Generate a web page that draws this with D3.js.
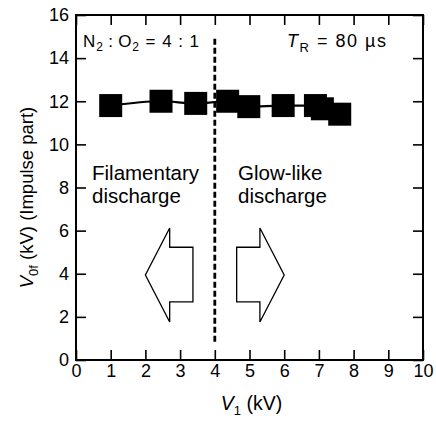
<!DOCTYPE html>
<html>
<head>
<meta charset="utf-8">
<title>V0f vs V1</title>
<style>
  body { margin: 0; background: #fff; }
  svg text { font-family: "Liberation Sans", Arial, Helvetica, sans-serif; fill: #000; }
</style>
</head>
<body>
<div class="plot_container"></div>
<script src="https://cdn.jsdelivr.net/npm/d3@7/dist/d3.min.js"></script>
<script>
// data
var v1 = [1.0, 2.45, 3.45, 4.37, 4.98, 5.97, 6.9, 7.1, 7.6];
var v0f = [11.8, 12.0, 11.9, 12.0, 11.75, 11.8, 11.8, 11.65, 11.4];
var xTicks = [0, 1, 2, 3, 4, 5, 6, 7, 8, 9, 10];
var yTicks = [0, 2, 4, 6, 8, 10, 12, 14, 16];
var boundaryV1 = 4;

var width = 436, height = 421;
var margin = {left: 76, right: 13, top: 15, bottom: 61};

var svg = d3.select(".plot_container").append("svg")
    .attr("width", width)
    .attr("height", height);

var x = d3.scaleLinear().domain([0, 10]).range([margin.left, width - margin.right]);
var y = d3.scaleLinear().domain([0, 16]).range([height - margin.bottom, margin.top]);

var tickLen = 10;

// ticks, all pointing inward
svg.append("g").attr("transform", "translate(0," + y(0) + ")")
    .call(d3.axisBottom(x).tickValues(xTicks).tickSizeInner(-tickLen).tickSizeOuter(0).tickPadding(4).tickFormat(d3.format("d")));
svg.append("g").attr("transform", "translate(0," + y(16) + ")")
    .call(d3.axisTop(x).tickValues(xTicks).tickSizeInner(-tickLen).tickSizeOuter(0).tickFormat(""));
svg.append("g").attr("transform", "translate(" + x(0) + ",0)")
    .call(d3.axisLeft(y).tickValues(yTicks).tickSizeInner(-tickLen).tickSizeOuter(0).tickPadding(7).tickFormat(d3.format("d")));
svg.append("g").attr("transform", "translate(" + x(10) + ",0)")
    .call(d3.axisRight(y).tickValues(yTicks).tickSizeInner(-tickLen).tickSizeOuter(0).tickFormat(""));

svg.selectAll(".domain").remove();
svg.selectAll(".tick line").attr("stroke", "#000").attr("stroke-width", 1.6);
svg.selectAll(".tick text").style("font-size", "18px").attr("fill", "#000");

// frame
svg.append("rect")
    .attr("x", x(0)).attr("y", y(16))
    .attr("width", x(10) - x(0)).attr("height", y(0) - y(16))
    .attr("fill", "none").attr("stroke", "#000").attr("stroke-width", 2);

// boundary line
svg.append("line")
    .attr("x1", x(boundaryV1)).attr("x2", x(boundaryV1))
    .attr("y1", y(14.9)).attr("y2", y(0.8))
    .attr("stroke", "#000").attr("stroke-width", 2.8)
    .attr("stroke-dasharray", "6,3");

// arrows (annotation), offsets from the boundary
var arrowShape = [[0.63, 5.23], [1.3, 5.23], [1.3, 6.12], [2.0, 3.94], [1.3, 1.76], [1.3, 2.7], [0.63, 2.7]];
[-1, 1].forEach(function(dir) {
    svg.append("path")
        .attr("d", d3.line()
            .x(function(p) { return x(boundaryV1 + dir * p[0]); })
            .y(function(p) { return y(p[1]); })
            .curve(d3.curveLinearClosed)(arrowShape))
        .attr("fill", "#fff").attr("stroke", "#000").attr("stroke-width", 1.3);
});

// curve through points
var pts = v1.map(function(d, i) { return [d, v0f[i]]; });
svg.append("path")
    .attr("d", d3.line()
        .x(function(p) { return x(p[0]); })
        .y(function(p) { return y(p[1]); })
        .curve(d3.curveMonotoneX)(pts))
    .attr("fill", "none").attr("stroke", "#000").attr("stroke-width", 2.2);

var ms = 23;
svg.selectAll(".pt").data(pts).enter().append("rect")
    .attr("class", "pt")
    .attr("x", function(p) { return x(p[0]) - ms / 2; })
    .attr("y", function(p) { return y(p[1]) - ms / 2; })
    .attr("width", ms).attr("height", ms)
    .attr("fill", "#000");

// text annotations
var t1 = svg.append("text").attr("x", 83).attr("y", 47).style("font-size", "17px");
t1.append("tspan").text("N");
t1.append("tspan").attr("dy", 4).style("font-size", "12px").text("2");
t1.append("tspan").attr("dy", -4).text("\u2009:\u2009O");
t1.append("tspan").attr("dy", 4).style("font-size", "12px").text("2");
t1.append("tspan").attr("dy", -4).text(" = 4 : 1");
t1.attr("textLength", 116).attr("lengthAdjust", "spacing");

var t2 = svg.append("text").attr("x", 287).attr("y", 47).style("font-size", "18px");
t2.append("tspan").style("font-style", "italic").text("T");
t2.append("tspan").attr("dy", 5).style("font-size", "13px").text("R");
t2.append("tspan").attr("dy", -5).text(" = 80 \u00b5s");
t2.attr("textLength", 99).attr("lengthAdjust", "spacing");

[["Filamentary", 92, 180], ["discharge", 92, 203], ["Glow-like", 238, 180], ["discharge", 238, 203]].forEach(function(t) {
    svg.append("text").attr("x", t[1]).attr("y", t[2]).style("font-size", "20.5px").text(t[0]);
});

// axis titles
var xl = svg.append("text").attr("x", (x(0) + x(10)) / 2 + 2).attr("y", 410)
    .attr("text-anchor", "middle").style("font-size", "19.5px");
xl.append("tspan").style("font-style", "italic").text("V");
xl.append("tspan").attr("dy", 5).style("font-size", "13px").text("1");
xl.append("tspan").attr("dy", -5).text(" (kV)");

var yl = svg.append("text")
    .attr("transform", "translate(33," + (y(8) + 10) + ") rotate(-90)")
    .attr("text-anchor", "middle").style("font-size", "18.5px");
yl.append("tspan").style("font-style", "italic").text("V");
yl.append("tspan").attr("dy", 5).style("font-size", "13px").text("0f");
yl.append("tspan").attr("dy", -5).text(" (kV) (Impulse part)");
</script>
</body>
</html>
